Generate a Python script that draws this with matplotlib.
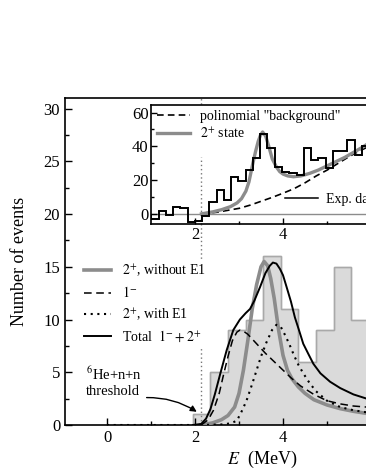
import numpy as np
import matplotlib
matplotlib.use("Agg")
import matplotlib.pyplot as plt
from matplotlib.lines import Line2D

plt.rcParams['font.family'] = ['Liberation Serif', 'DejaVu Serif']
plt.rcParams['mathtext.fontset'] = 'stix'

# main histogram (gray), bins of 0.4 MeV
main_edges = [1.95, 2.35, 2.75, 3.15, 3.55, 3.95, 4.35, 4.75, 5.15, 5.55, 5.95]
main_counts = [1, 5, 9, 10, 16, 11, 6, 9, 15, 10]

# curves in the main panel
e_2p = [2.14, 2.4, 2.6, 2.75, 2.9, 3.0, 3.1, 3.2, 3.3, 3.4, 3.5, 3.57, 3.65, 3.72,
        3.8, 3.9, 4.0, 4.1, 4.2, 4.35, 4.5, 4.7, 5.0, 5.3, 5.6, 5.9]
y_2p = [0, 0.2, 0.5, 0.9, 1.7, 3.0, 5.2, 8.0, 11.0, 13.3, 15.0, 15.5, 15.1, 13.9,
        12.0, 9.0, 6.6, 5.2, 4.4, 3.6, 3.0, 2.4, 1.9, 1.55, 1.3, 1.1]

e_1m = [2.14, 2.3, 2.42, 2.55, 2.65, 2.75, 2.85, 2.95, 3.02, 3.1, 3.2, 3.4, 3.6,
        3.8, 4.0, 4.2, 4.4, 4.7, 5.0, 5.3, 5.6, 5.9]
y_1m = [0, 0.5, 1.4, 3.0, 4.8, 6.5, 8.0, 8.8, 9.0, 8.9, 8.6, 7.7, 6.8,
        6.0, 5.2, 4.4, 3.7, 2.9, 2.3, 2.0, 1.8, 1.7]

e_2pe1 = [0, 2.14, 2.6, 2.8, 2.95, 3.05, 3.17, 3.3, 3.4, 3.5, 3.62, 3.75, 3.85,
          3.95, 4.05, 4.15, 4.25, 4.35, 4.46, 4.6, 4.75, 5.0, 5.3, 5.6, 5.9]
y_2pe1 = [0, 0, 0.05, 0.15, 0.4, 1.2, 2.3, 3.9, 5.2, 6.5, 7.8, 9.0, 9.5,
          9.3, 8.5, 7.6, 6.6, 5.7, 4.9, 4.0, 3.2, 2.3, 1.7, 1.4, 1.2]

e_tot = [1.95, 2.14, 2.25, 2.35, 2.45, 2.57, 2.72, 2.87, 3.02, 3.15, 3.25, 3.35,
         3.48, 3.6, 3.7, 3.77, 3.85, 3.93, 4.0, 4.08, 4.18, 4.27, 4.37, 4.46,
         4.58, 4.69, 4.85, 5.07, 5.3, 5.6, 5.9]
y_tot = [0, 0.1, 0.6, 1.5, 2.9, 4.8, 7.1, 9.0, 10.0, 10.6, 11.0, 11.8,
         13.1, 14.4, 15.1, 15.4, 15.3, 14.8, 14.2, 13.1, 11.7, 10.2, 8.9, 7.7,
         6.7, 5.8, 4.9, 4.1, 3.5, 2.9, 2.5]

threshold = 2.14

# inset: experimental data, bins of 1/6 MeV from 1.0
inset_start = 1.0
inset_width = 0.165
inset_counts = [-3, 1.5, -0.6, 4.3, 3.3, -5, -4.2, -1.5, 7, 14, 8.4, 22, 19.6, 26,
                33, 47.5, 39, 28, 25, 24, 23, 39, 32, 33, 27, 37.5, 37, 44, 35, 40]
inset_edges = inset_start + inset_width * np.arange(len(inset_counts) + 1)

e_bg = [2.14, 2.5, 3.0, 3.25, 3.5, 3.75, 4.0, 4.25, 4.5, 4.75, 5.0, 5.25, 5.5, 5.75, 5.95]
y_bg = [0, 1.0, 3.3, 5.2, 7.5, 9.8, 12.3, 15.0, 18.5, 22.5, 26.0, 30.0, 34.0, 37.5, 40.0]

e_st = [2.14, 2.4, 2.6, 2.8, 2.95, 3.05, 3.15, 3.22, 3.3, 3.37, 3.43, 3.48, 3.53,
        3.6, 3.67, 3.75, 3.85, 3.92, 4.0, 4.1, 4.23, 4.4, 4.6, 4.8, 5.0, 5.2,
        5.4, 5.6, 5.8, 5.95]
y_st = [0, 1.2, 2.5, 4.3, 6.5, 9.0, 13.5, 19, 29, 37, 43, 46.5, 48.5,
        46, 40, 32.5, 27.5, 25, 23.5, 22.5, 22, 22.5, 24, 26, 28.5, 31,
        33.5, 36.5, 39.5, 42]

W, H = 366, 473
fig = plt.figure(figsize=(W / 100, H / 100), dpi=100)

# main axes (right part is cut off by the figure edge)
x0, x1 = -0.955, 8.0
pxe = 44.0
ax = fig.add_axes([65 / W, 48 / H, (x1 - x0) * pxe / W, 327 / H])
ax.stairs(main_counts, main_edges, fill=True, facecolor='#dadada',
          edgecolor='#a9a9a9', lw=1.0, zorder=1)
ax.stairs(main_counts, main_edges, fill=False, color='#a9a9a9', lw=1.0, zorder=1)
ax.axvline(threshold, color='#777777', lw=1.0, ls=(0, (1, 2)), zorder=2)
l1, = ax.plot(e_2p, y_2p, color='#8c8c8c', lw=2.6, zorder=3)
l2, = ax.plot(e_1m, y_1m, color='k', lw=1.1, ls=(0, (5, 3)), zorder=4)
l3, = ax.plot(e_2pe1, y_2pe1, color='k', lw=1.5, ls=(0, (1, 2.2)), zorder=4)
l4, = ax.plot(e_tot, y_tot, color='k', lw=1.4, zorder=5)

ax.set_xlim(x0, x1)
ax.set_ylim(0, 31)
ax.set_xticks([0, 2, 4])
ax.set_xticks([1, 3, 5, 7], minor=True)
ax.set_yticks(range(0, 31, 5))
ax.set_yticks(np.arange(2.5, 30, 5), minor=True)
ax.tick_params(which='both', direction='in', labelsize=12, width=1.0)
ax.tick_params(which='major', length=5)
ax.tick_params(which='minor', length=3)
for s in ax.spines.values():
    s.set_linewidth(1.2)
ax.set_ylabel('Number of events', fontsize=13, labelpad=11)
ax.set_xlabel(r'$E$  (MeV)', fontsize=13, labelpad=2)

leg = ax.legend([l1, l2, l3, l4],
                [r'$2^{+}$, without E1', r'$1^{-}$', r'$2^{+}$, with E1',
                 r'Total  $1^{-}+2^{+}$'],
                loc='upper left', bbox_to_anchor=(0.038, 0.508), borderaxespad=0,
                fontsize=10, handlelength=1.9, handletextpad=0.8, labelspacing=0.45,
                frameon=True, framealpha=1, edgecolor='none', borderpad=0.3)
leg.set_zorder(6)

ax.text(-0.48, 4.1, '$^{6}$He+n+n\nthreshold', fontsize=10.5, ha='left',
        va='center', linespacing=1.3)
ax.annotate('', xy=(2.04, 1.25), xytext=(0.9, 2.6),
            arrowprops=dict(arrowstyle='-|>', color='k', lw=1.0,
                            connectionstyle='arc3,rad=-0.15',
                            mutation_scale=9, shrinkA=0, shrinkB=0))

# inset
ix0, ix1 = 1.0, 6.6
axi = fig.add_axes([151.3 / W, (H - 224) / H, (ix1 - ix0) * pxe / W, 119 / H])
axi.axhline(0, color='#8c8c8c', lw=1.0, zorder=1)
axi.axvline(threshold, ymax=0.56, color='#777777', lw=1.0, ls=(0, (1, 2)), zorder=1)
axi.stairs(inset_counts, inset_edges, color='k', lw=1.4, zorder=3)
b1, = axi.plot(e_bg, y_bg, color='k', lw=1.2, ls=(0, (4, 2.5)), zorder=2)
b2, = axi.plot(e_st, y_st, color='#8c8c8c', lw=2.4, zorder=2)
axi.set_xlim(ix0, ix1)
axi.set_ylim(-6, 64.5)
axi.set_xticks([2, 4])
axi.set_xticks([3, 5], minor=True)
axi.set_yticks([0, 20, 40, 60])
axi.set_yticks([10, 30, 50], minor=True)
axi.tick_params(which='both', direction='in', labelsize=12, width=1.0, pad=2)
axi.tick_params(which='major', length=4)
axi.tick_params(which='minor', length=2.5)
for s in axi.spines.values():
    s.set_linewidth(1.2)

lg1 = axi.legend([b1, b2], ['polinomial "background"', r'$2^{+}$ state'],
                 loc='upper left', bbox_to_anchor=(0.01, 0.985), borderaxespad=0,
                 fontsize=10, handlelength=2.4, handletextpad=0.7, labelspacing=0.3,
                 frameon=False, borderpad=0.2)
axi.add_artist(lg1)
exp_h = Line2D([], [], color='k', lw=1.1)
axi.legend([exp_h], ['Exp. data'], loc='center left',
           bbox_to_anchor=(0.5426, 0.2076), borderaxespad=0, borderpad=0,
           fontsize=10, handlelength=2.4, handletextpad=0.55, frameon=False)

fig.savefig('out.png', dpi=100)
